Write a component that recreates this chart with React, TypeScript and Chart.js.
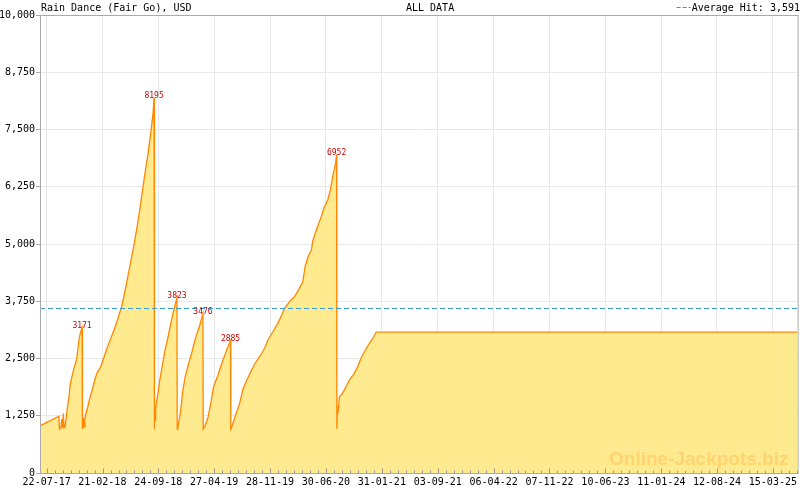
import { useEffect, useRef } from "react";
import { Chart, registerables } from "chart.js";

Chart.register(...registerables);

const TITLE = "Rain Dance (Fair Go), USD";
const SUBTITLE = "ALL DATA";
const AVERAGE_LABEL = "Average Hit: 3,591";
const AVERAGE_HIT = 3591;

// Day 0 = 2017-07-22
const BASE_UTC = Date.UTC(2017, 6, 22);
const X_MIN_DAY = -25.7;
const X_MAX_DAY = 2888;

const days = [
  -26, 47, 49, 55, 58, 61, 64, 67, 71, 80, 86, 90, 97, 105, 116, 123, 129, 136, 137,
  138, 141, 144, 147, 151, 158, 164, 173, 183, 193, 208, 221, 234, 247, 259, 268, 288, 294,
  307, 322, 337, 352, 365, 378, 390, 400, 409, 413, 414,
  415, 417, 419, 428, 435, 444, 454, 467, 480, 492, 501, 502,
  505, 514, 524, 533, 546, 559, 572, 589, 601, 602,
  608, 621, 631, 642, 659, 678, 695, 707, 708,
  712, 729, 742, 754, 767, 785, 800, 819, 838, 851, 870, 889, 904, 915, 934, 953, 972, 985,
  994, 1005, 1018, 1024, 1037, 1056, 1068, 1081, 1091, 1100, 1111, 1115, 1116,
  1118, 1120, 1126, 1138, 1151, 1164, 1183, 1196, 1209, 1226, 1241, 1258, 1267, 2888,
];

const values = [
  1030, 1240, 960, 1000, 1180, 980, 1300, 990, 1010, 1447, 1666, 1921, 2102, 2285, 2504, 2866, 3049, 3171, 960,
  980, 1200, 1000, 1200, 1300, 1447, 1594, 1775, 1993, 2176, 2321, 2539, 2757, 2940, 3122, 3268, 3630, 3777,
  4141, 4578, 5014, 5523, 6032, 6542, 6979, 7416, 7852, 8195, 960,
  1400, 1150, 1412, 1740, 2030, 2320, 2648, 2975, 3340, 3630, 3823, 960,
  1010, 1303, 1812, 2102, 2394, 2648, 2940, 3231, 3476, 960,
  1010, 1229, 1521, 1884, 2139, 2467, 2722, 2885, 960,
  1010, 1303, 1521, 1812, 1993, 2211, 2380, 2539, 2722, 2903, 3085, 3268, 3449, 3595, 3740, 3849, 4032, 4176,
  4504, 4722, 4868, 5086, 5305, 5596, 5814, 5960, 6178, 6468, 6760, 6952, 960,
  1450, 1300, 1666, 1740, 1884, 2030, 2176, 2321, 2504, 2685, 2831, 2975, 3075, 3075,
];

const xTickLabels = [
  "22-07-17", "21-02-18", "24-09-18", "27-04-19", "28-11-19", "30-06-20", "31-01-21",
  "03-09-21", "06-04-22", "07-11-22", "10-06-23", "11-01-24", "12-08-24", "15-03-25",
];

const yTickValues = [0, 1250, 2500, 3750, 5000, 6250, 7500, 8750, 10000];

const MONO = '"DejaVu Sans Mono", monospace';

function labelToDay(s: string): number {
  const [d, m, y] = s.split("-").map(Number);
  return (Date.UTC(2000 + y, m - 1, d) - BASE_UTC) / 86400000;
}

const xTickDays = xTickLabels.map(labelToDay);

const decorPlugin = {
  id: "decor",
  afterDatasetsDraw(chart: any) {
    const { ctx, scales } = chart;
    const xs = scales.x;
    const ys = scales.y;
    ctx.save();
    ctx.font = `8px ${MONO}`;
    ctx.fillStyle = "#cc0000";
    ctx.textAlign = "center";
    ctx.textBaseline = "alphabetic";
    for (let i = 1; i < values.length - 1; i++) {
      if (values[i] >= values[i - 1] && values[i] - values[i + 1] > 1000) {
        const px = xs.getPixelForValue(days[i]);
        const py = ys.getPixelForValue(values[i]);
        ctx.fillText(String(values[i]), px, py);
      }
    }
    ctx.restore();
  },
  afterDraw(chart: any) {
    const { ctx, chartArea, scales } = chart;
    const xs = scales.x;
    ctx.save();
    // watermark
    ctx.font = 'bold 19px "Liberation Sans", Arial, sans-serif';
    ctx.fillStyle = "#ffd36e";
    ctx.textAlign = "left";
    ctx.textBaseline = "alphabetic";
    ctx.fillText("Online-Jackpots.biz", 609, 465);

    // box
    ctx.strokeStyle = "#aaaaaa";
    ctx.lineWidth = 1;
    ctx.strokeRect(chartArea.left + 0.5, chartArea.top + 0.5, chartArea.right - chartArea.left, chartArea.bottom - chartArea.top);

    // x ticks (inside)
    ctx.strokeStyle = "#999999";
    ctx.beginPath();
    const first = xTickDays[0];
    const step = (xTickDays[xTickDays.length - 1] - first) / (xTickDays.length - 1) / 7;
    const bottom = chartArea.bottom + 0.5;
    for (let k = -1; ; k++) {
      const d = first + k * step;
      if (d > X_MAX_DAY) break;
      if (d < X_MIN_DAY) continue;
      const px = Math.round(xs.getPixelForValue(d)) + 0.5;
      const len = k % 7 === 0 ? 5 : 3;
      ctx.moveTo(px, bottom);
      ctx.lineTo(px, bottom - len);
    }
    ctx.stroke();

    // title texts
    ctx.font = `10px ${MONO}`;
    ctx.fillStyle = "#000000";
    ctx.textBaseline = "alphabetic";
    ctx.textAlign = "left";
    ctx.fillText(TITLE, 41, 11);
    ctx.fillText(SUBTITLE, 406, 11);
    ctx.textAlign = "right";
    ctx.fillText(AVERAGE_LABEL, 800, 11);
    const w = ctx.measureText(AVERAGE_LABEL).width;
    ctx.strokeStyle = "#3399cc";
    ctx.setLineDash([4, 2]);
    ctx.beginPath();
    ctx.moveTo(800 - w - 15, 7.5);
    ctx.lineTo(800 - w - 1, 7.5);
    ctx.stroke();
    ctx.restore();
  },
};

export default function App() {
  const canvasRef = useRef<HTMLCanvasElement | null>(null);

  useEffect(() => {
    document.body.style.margin = "0";
    const canvas = canvasRef.current;
    if (!canvas) return;
    const chart = new Chart(canvas, {
      type: "line",
      data: {
        datasets: [
          {
            data: [
              { x: X_MIN_DAY, y: AVERAGE_HIT },
              { x: X_MAX_DAY, y: AVERAGE_HIT },
            ],
            borderColor: "#3399cc",
            borderWidth: 1,
            borderDash: [5, 3],
            pointRadius: 0,
            fill: false,
            order: 1,
          },
          {
            data: days.map((d, i) => ({ x: d, y: values[i] })),
            borderColor: "#ff8800",
            backgroundColor: "#ffea90",
            borderWidth: 1.3,
            pointRadius: 0,
            tension: 0,
            fill: "origin",
            order: 2,
          },
        ],
      },
      options: {
        animation: false,
        responsive: false,
        devicePixelRatio: 1,
        layout: { padding: { top: 15, right: 1, left: 0, bottom: 0 } },
        plugins: {
          legend: { display: false },
          tooltip: { enabled: false },
          title: { display: false },
        },
        scales: {
          x: {
            type: "linear",
            min: X_MIN_DAY,
            max: X_MAX_DAY,
            afterBuildTicks: (axis: any) => {
              axis.ticks = xTickDays.map((v) => ({ value: v }));
            },
            afterFit: (axis: any) => {
              axis.height = 17;
            },
            ticks: {
              autoSkip: false,
              maxRotation: 0,
              padding: 3,
              color: "#000000",
              font: { family: MONO, size: 10 },
              callback: (_v: any, i: number) => xTickLabels[i],
            },
            grid: { color: "#e8e8e8", drawTicks: false },
            border: { display: false },
          },
          y: {
            min: 0,
            max: 10000,
            afterBuildTicks: (axis: any) => {
              axis.ticks = yTickValues.map((v) => ({ value: v }));
            },
            afterFit: (axis: any) => {
              axis.width = 40;
            },
            ticks: {
              padding: 1,
              color: "#000000",
              font: { family: MONO, size: 10 },
              callback: (v: any) => Number(v).toLocaleString("en-US"),
            },
            grid: { color: "#e8e8e8", tickColor: "#aaaaaa", tickLength: 4 },
            border: { display: false },
          },
        },
      },
      plugins: [decorPlugin],
    });
    return () => chart.destroy();
  }, []);

  return (
    <div style={{ width: 800, height: 490, background: "#ffffff" }}>
      <canvas ref={canvasRef} width={800} height={490} style={{ display: "block" }} />
    </div>
  );
}
